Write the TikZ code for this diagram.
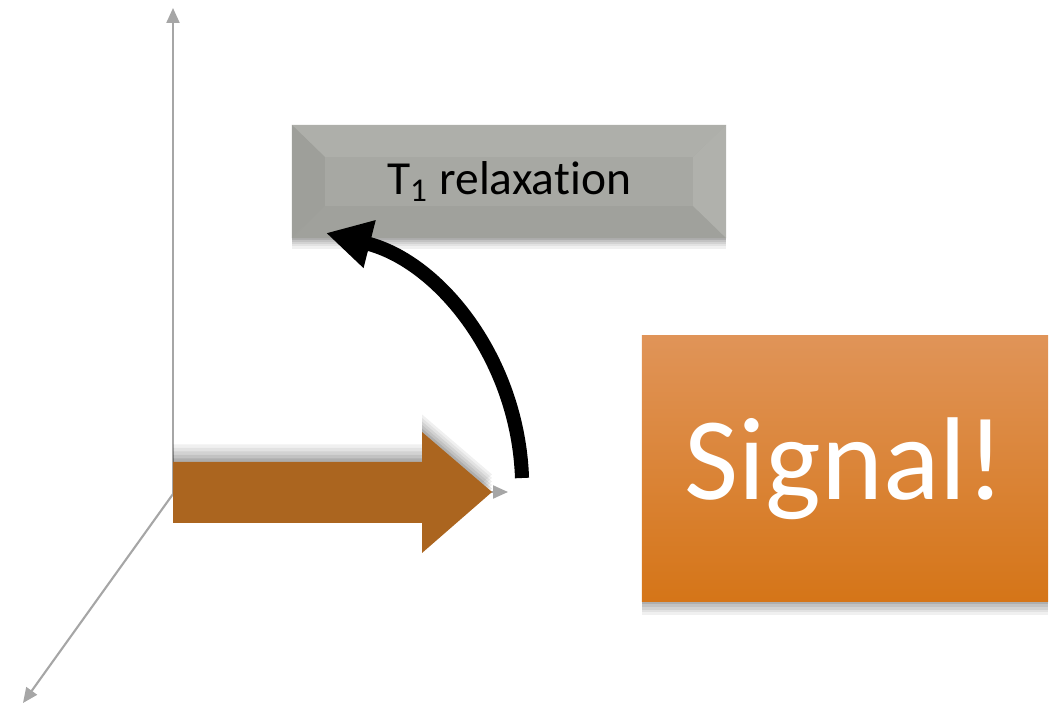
\documentclass[tikz,border=0pt]{standalone}
\usepackage{fontspec}
\setmainfont[Ligatures={NoCommon}]{Carlito}
\usetikzlibrary{arrows.meta,shadows,calc}
\definecolor{axisgray}{RGB}{166,166,166}
\definecolor{facegray}{RGB}{167,168,163}
\definecolor{toplight}{RGB}{174,175,170}
\definecolor{sidedark}{RGB}{158,159,154}
\definecolor{sidelight}{RGB}{176,177,172}
\definecolor{botdark}{RGB}{160,161,156}
\definecolor{mbrown}{RGB}{171,101,31}
\definecolor{sigtop}{RGB}{224,148,88}
\definecolor{sigmid}{RGB}{224,136,48}
\definecolor{sigbot}{RGB}{213,117,24}
\begin{document}
\begin{tikzpicture}[x=0.01cm,y=-0.01cm,
    axis/.style={draw=axisgray,line width=0.6pt,-{Triangle[length=0.15cm,width=0.13cm]}},
    soft/.style={drop shadow={shadow xshift=0pt,shadow yshift=#1,opacity=.06,fill=black},
                 drop shadow={shadow xshift=0pt,shadow yshift=#1*0.8,opacity=.06,fill=black},
                 drop shadow={shadow xshift=0pt,shadow yshift=#1*0.6,opacity=.07,fill=black},
                 drop shadow={shadow xshift=0pt,shadow yshift=#1*0.4,opacity=.08,fill=black},
                 drop shadow={shadow xshift=0pt,shadow yshift=#1*0.2,opacity=.1,fill=black}},
    bevelbox/.style={fill=facegray,minimum width=4.34cm,minimum height=1.13cm,inner sep=0pt,
       font=\fontsize{13.5}{16}\selectfont,soft=-3pt,
       path picture={
         \fill[toplight] (path picture bounding box.north west) -- (path picture bounding box.north east)
           -- ++(-33,32) -- ($(path picture bounding box.north west)+(33,32)$) -- cycle;
         \fill[botdark] (path picture bounding box.south west) -- (path picture bounding box.south east)
           -- ++(-33,-32) -- ($(path picture bounding box.south west)+(33,-32)$) -- cycle;
         \fill[sidedark] (path picture bounding box.north west) -- ++(33,32)
           -- ($(path picture bounding box.south west)+(33,-32)$) -- (path picture bounding box.south west) -- cycle;
         \fill[sidelight] (path picture bounding box.north east) -- ++(-33,32)
           -- ($(path picture bounding box.south east)+(-33,-32)$) -- (path picture bounding box.south east) -- cycle;
       }},
    signalbox/.style={top color=sigtop,middle color=sigmid,bottom color=sigbot,
       minimum width=4.06cm,minimum height=2.65cm,inner sep=0pt,text=white,
       font=\fontsize{33.5}{40}\selectfont,soft=-4pt},
    relax/.style={line width=4pt,-{Triangle[length=0.45cm,width=0.46cm]}}
    ]
  \useasboundingbox (0,0) rectangle (1058,704);

  % axes
  \coordinate (o) at (173,494);
  \coordinate (xend) at (508,492);
  \coordinate (yend) at (173,8);
  \coordinate (zend) at (23,703);
  \draw[axis] (o) -- (yend);
  \draw[axis] (173,492) -- (xend);
  \draw[axis] (o) -- (zend);

  % magnetisation
  \fill[mbrown,soft=5pt] (173,462) -- (422,462) -- (422,432) -- (492,492)
     -- (422,553) -- (422,523) -- (173,523) -- cycle;

  \node[bevelbox] (t1) at (509,181.5) {T\textsubscript{1} relaxation};
  \node[signalbox] (sig) at (845,468.5) {Signal!};

  \coordinate (m) at (522,478);
  \coordinate (tip) at (326,233);
  \draw[relax] (m) .. controls (518,360) and (440,262) .. (tip);
\end{tikzpicture}
\end{document}
